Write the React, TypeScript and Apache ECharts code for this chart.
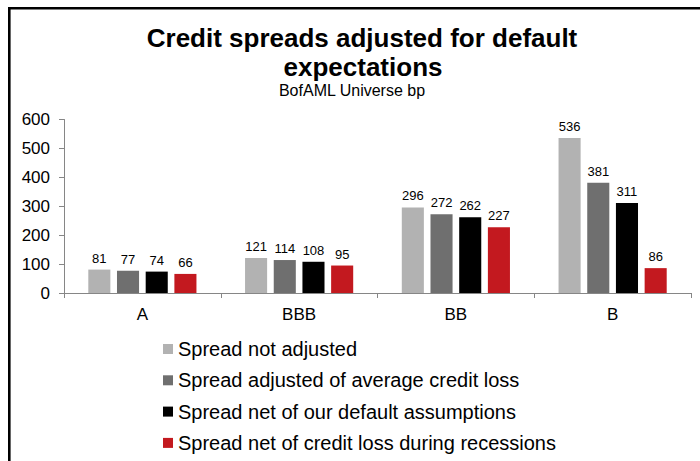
import React, { useEffect, useRef } from "react";
import * as echarts from "echarts";

const categories = ["A", "BBB", "BB", "B"];
const seriesNames = [
  "Spread not adjusted",
  "Spread adjusted of average credit loss",
  "Spread net of our default assumptions",
  "Spread net of credit loss during recessions",
];
const notAdjusted = [81, 121, 296, 536];
const avgCreditLoss = [77, 114, 272, 381];
const ourDefault = [74, 108, 262, 311];
const recessionLoss = [66, 95, 227, 86];
const yTicks = [0, 100, 200, 300, 400, 500, 600];
const colors = ["#B2B2B2", "#6F6F6F", "#000000", "#C3191F"];

const FONT = "'Liberation Sans', Arial, Helvetica, sans-serif";

export default function App() {
  const ref = useRef<HTMLDivElement>(null);
  useEffect(() => {
    document.body.style.margin = "0";
    const chart = echarts.init(ref.current!, undefined, { renderer: "svg" });
    const values = [notAdjusted, avgCreditLoss, ourDefault, recessionLoss];
    chart.setOption({
      animation: false,
      backgroundColor: "#ffffff",
      textStyle: { fontFamily: FONT },
      graphic: [
        { type: "rect", shape: { x: 8, y: 7, width: 2.6, height: 460 }, style: { fill: "#000" }, silent: true },
        { type: "rect", shape: { x: 8, y: 7, width: 700, height: 2.6 }, style: { fill: "#000" }, silent: true },
        {
          type: "text", x: 362, y: 37.5,
          style: { text: "Credit spreads adjusted for default", font: `bold 26px ${FONT}`, fill: "#000", textAlign: "center", textVerticalAlign: "middle" },
        },
        {
          type: "text", x: 363, y: 67,
          style: { text: "expectations", font: `bold 26px ${FONT}`, fill: "#000", textAlign: "center", textVerticalAlign: "middle" },
        },
        {
          type: "text", x: 352, y: 90.5,
          style: { text: "BofAML Universe bp", font: `16px ${FONT}`, fill: "#000", textAlign: "center", textVerticalAlign: "middle" },
        },
      ],
      legend: {
        orient: "vertical",
        left: 163,
        top: 339,
        padding: 0,
        itemWidth: 10,
        itemHeight: 10,
        itemGap: 11.3,
        icon: "rect",
        textStyle: { fontSize: 20, color: "#000", fontFamily: FONT },
        data: seriesNames,
      },
      grid: { left: 64, right: 9, top: 119.5, bottom: 168 },
      xAxis: {
        type: "category",
        data: categories,
        axisLine: { lineStyle: { color: "#868686", width: 1 } },
        axisTick: { show: true, length: 5, alignWithLabel: false, lineStyle: { color: "#868686" } },
        axisLabel: { fontSize: 17, color: "#000", margin: 13, fontFamily: FONT },
      },
      yAxis: {
        type: "value",
        min: 0,
        max: 600,
        interval: 100,
        axisLine: { show: true, lineStyle: { color: "#868686", width: 1 } },
        axisTick: { show: true, length: 5, lineStyle: { color: "#868686" } },
        splitLine: { show: false },
        axisLabel: {
          fontSize: 17, color: "#000", margin: 14, fontFamily: FONT,
          formatter: (v: number) => (yTicks.includes(v) ? String(v) : ""),
        },
      },
      series: values.map((vals, i) => ({
        name: seriesNames[i],
        type: "bar",
        data: vals,
        barGap: "30%",
        barCategoryGap: "31%",
        itemStyle: { color: colors[i] },
        label: { show: true, position: "top", distance: 5, fontSize: 13, color: "#000", fontFamily: FONT },
      })),
    });
    return () => chart.dispose();
  }, []);
  return <div ref={ref} style={{ width: 700, height: 461 }} />;
}
